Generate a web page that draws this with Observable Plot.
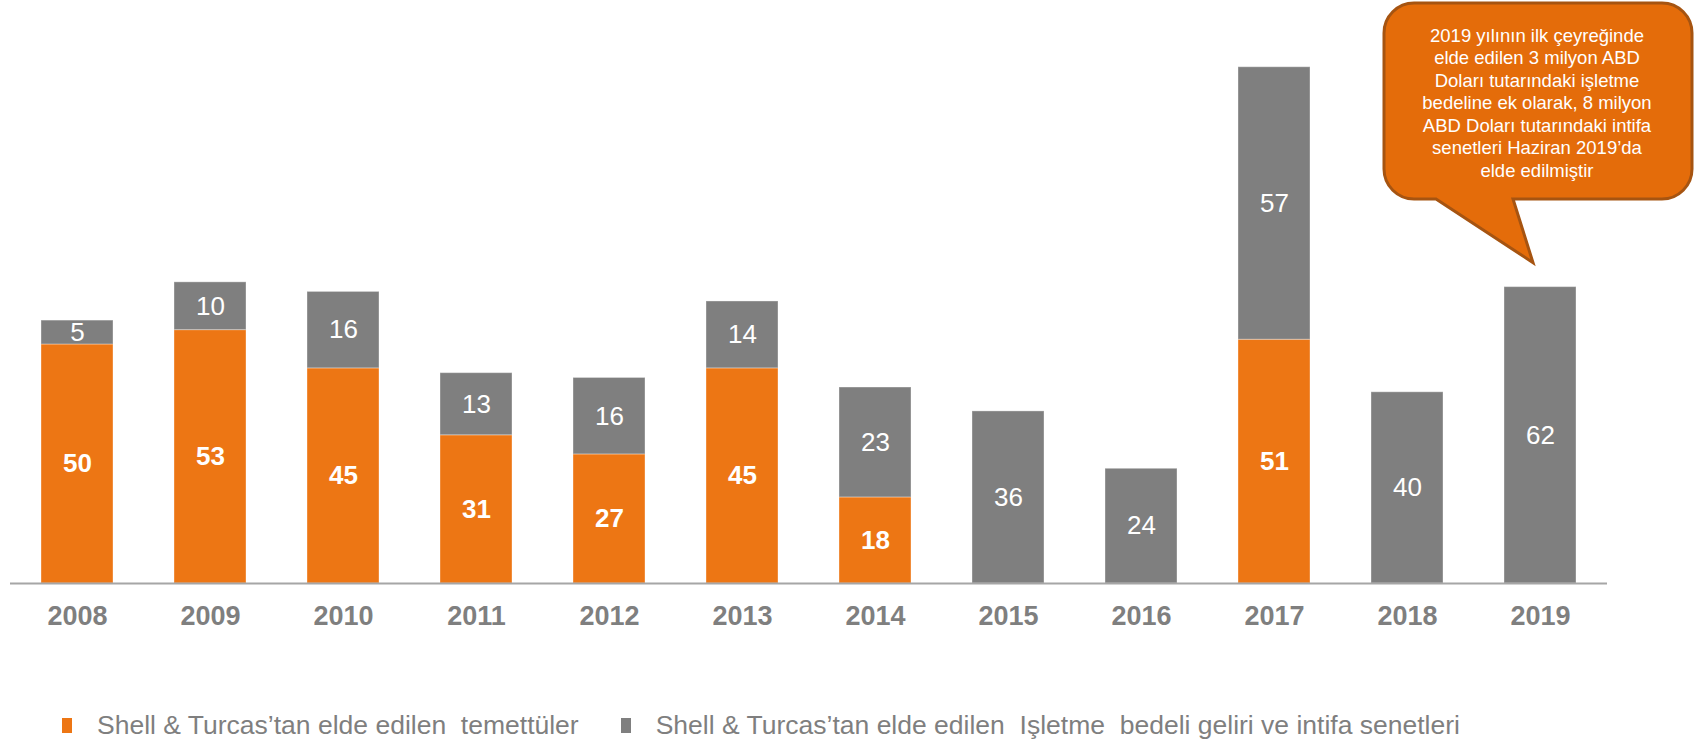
<!DOCTYPE html>
<html>
<head>
<meta charset="utf-8">
<script src="https://cdn.jsdelivr.net/npm/d3@7"></script>
<script src="https://cdn.jsdelivr.net/npm/@observablehq/plot@0.6"></script>
<style>
  html, body { margin: 0; padding: 0; background: #fff; }
  #wrap { position: relative; width: 1695px; height: 744px; font-family: "Liberation Sans", Arial, sans-serif; }
  #legend { position: absolute; left: 62px; top: 709px; height: 32px; display: flex; align-items: center; font-size: 26.5px; color: #7F7F7F; white-space: pre; }
  .sw { width: 10px; height: 15px; display: inline-block; }
</style>
</head>
<body>
<div id="wrap"></div>
<script>
const years = ["2008","2009","2010","2011","2012","2013","2014","2015","2016","2017","2018","2019"];
const dividends = [50, 53, 45, 31, 27, 45, 18, 0, 0, 51, 0, 0];
const fees = [5, 10, 16, 13, 16, 14, 23, 36, 24, 57, 40, 62];
const seriesKeys = ["div", "fee"];
const seriesNames = ["Shell & Turcas’tan elde edilen  temettüler", "Shell & Turcas’tan elde edilen  Işletme  bedeli geliri ve intifa senetleri"];
const seriesColors = ["#ED7614", "#7F7F7F"];
const calloutLines = [
  "2019 yılının ilk çeyreğinde",
  "elde edilen 3 milyon ABD",
  "Doları tutarındaki işletme",
  "bedeline ek olarak, 8 milyon",
  "ABD Doları tutarındaki intifa",
  "senetleri Haziran 2019’da",
  "elde edilmiştir"
];
const calloutYear = "2019";

(function () {
const data = years.flatMap((yr, i) => [
  {year: yr, series: "div", value: dividends[i]},
  {year: yr, series: "fee", value: fees[i]}
]);

const plot = Plot.plot({
  width: 1695,
  height: 700,
  marginTop: 7,
  marginBottom: 117,
  marginLeft: 10,
  marginRight: 88,
  style: {fontFamily: "'Liberation Sans', Arial, sans-serif", background: "transparent"},
  x: {domain: years, paddingInner: 0.46, paddingOuter: 0.23, label: null},
  y: {domain: [0, 120.5], axis: null},
  color: {domain: seriesKeys, range: seriesColors},
  marks: [
    Plot.barY(data, {x: "year", y: "value", fill: "series", z: "series", stroke: "#ffffff", strokeOpacity: 0.35, strokeWidth: 1}),
    Plot.text(data, Plot.stackY({x: "year", y: "value", z: "series",
      text: d => d.series === "div" && d.value > 0 ? String(d.value) : null,
      fill: "white", fontSize: 26, fontWeight: "bold"})),
    Plot.text(data, Plot.stackY({x: "year", y: "value", z: "series",
      text: d => d.series === "fee" && d.value > 0 ? String(d.value) : null,
      fill: "white", fontSize: 26})),
    Plot.ruleY([0], {stroke: "#A6A6A6", strokeWidth: 2}),
    Plot.axisX({tickSize: 0, tickPadding: 22, fontSize: 27, fontWeight: "bold", color: "#7F7F7F", label: null})
  ]
});

document.getElementById("wrap").appendChild(plot);

// Callout anchored to the 2019 bar via the scales
const xs = plot.scale("x"), ys = plot.scale("y");
const idx = years.indexOf(calloutYear);
const cx = xs.apply(calloutYear) + xs.bandwidth / 2;
const barTop = ys.apply(dividends[idx] + fees[idx]);
const bl = cx - 156, br = cx + 152, bt = 3, bb = 199, r = 30;
const tailL = cx - 104, tailR = cx - 27, tipX = cx - 7, tipY = barTop - 24;
const path = `M${bl + r},${bt} H${br - r} A${r},${r} 0 0 1 ${br},${bt + r} V${bb - r} A${r},${r} 0 0 1 ${br - r},${bb} H${tailR} L${tipX},${tipY} L${tailL},${bb} H${bl + r} A${r},${r} 0 0 1 ${bl},${bb - r} V${bt + r} A${r},${r} 0 0 1 ${bl + r},${bt} Z`;
const svg = d3.select(plot);
const g = svg.append("g");
g.append("path").attr("d", path).attr("fill", "#E46C0A").attr("stroke", "#A65411").attr("stroke-width", 3);
g.append("g").selectAll("text").data(calloutLines).join("text")
  .attr("x", cx - 3)
  .attr("y", (d, i) => 35 + i * 22.5)
  .attr("text-anchor", "middle")
  .attr("dominant-baseline", "central")
  .attr("fill", "white")
  .attr("font-size", 18.5)
  .text(d => d);

// Legend
const legend = document.createElement("div");
legend.id = "legend";
seriesNames.forEach((name, i) => {
  const sw = document.createElement("span");
  sw.className = "sw";
  sw.style.background = seriesColors[i];
  sw.style.marginRight = "25px";
  if (i > 0) sw.style.marginLeft = "42px";
  const t = document.createElement("span");
  t.textContent = name;
  legend.appendChild(sw);
  legend.appendChild(t);
});
document.getElementById("wrap").appendChild(legend);
})();
</script>
</body>
</html>
